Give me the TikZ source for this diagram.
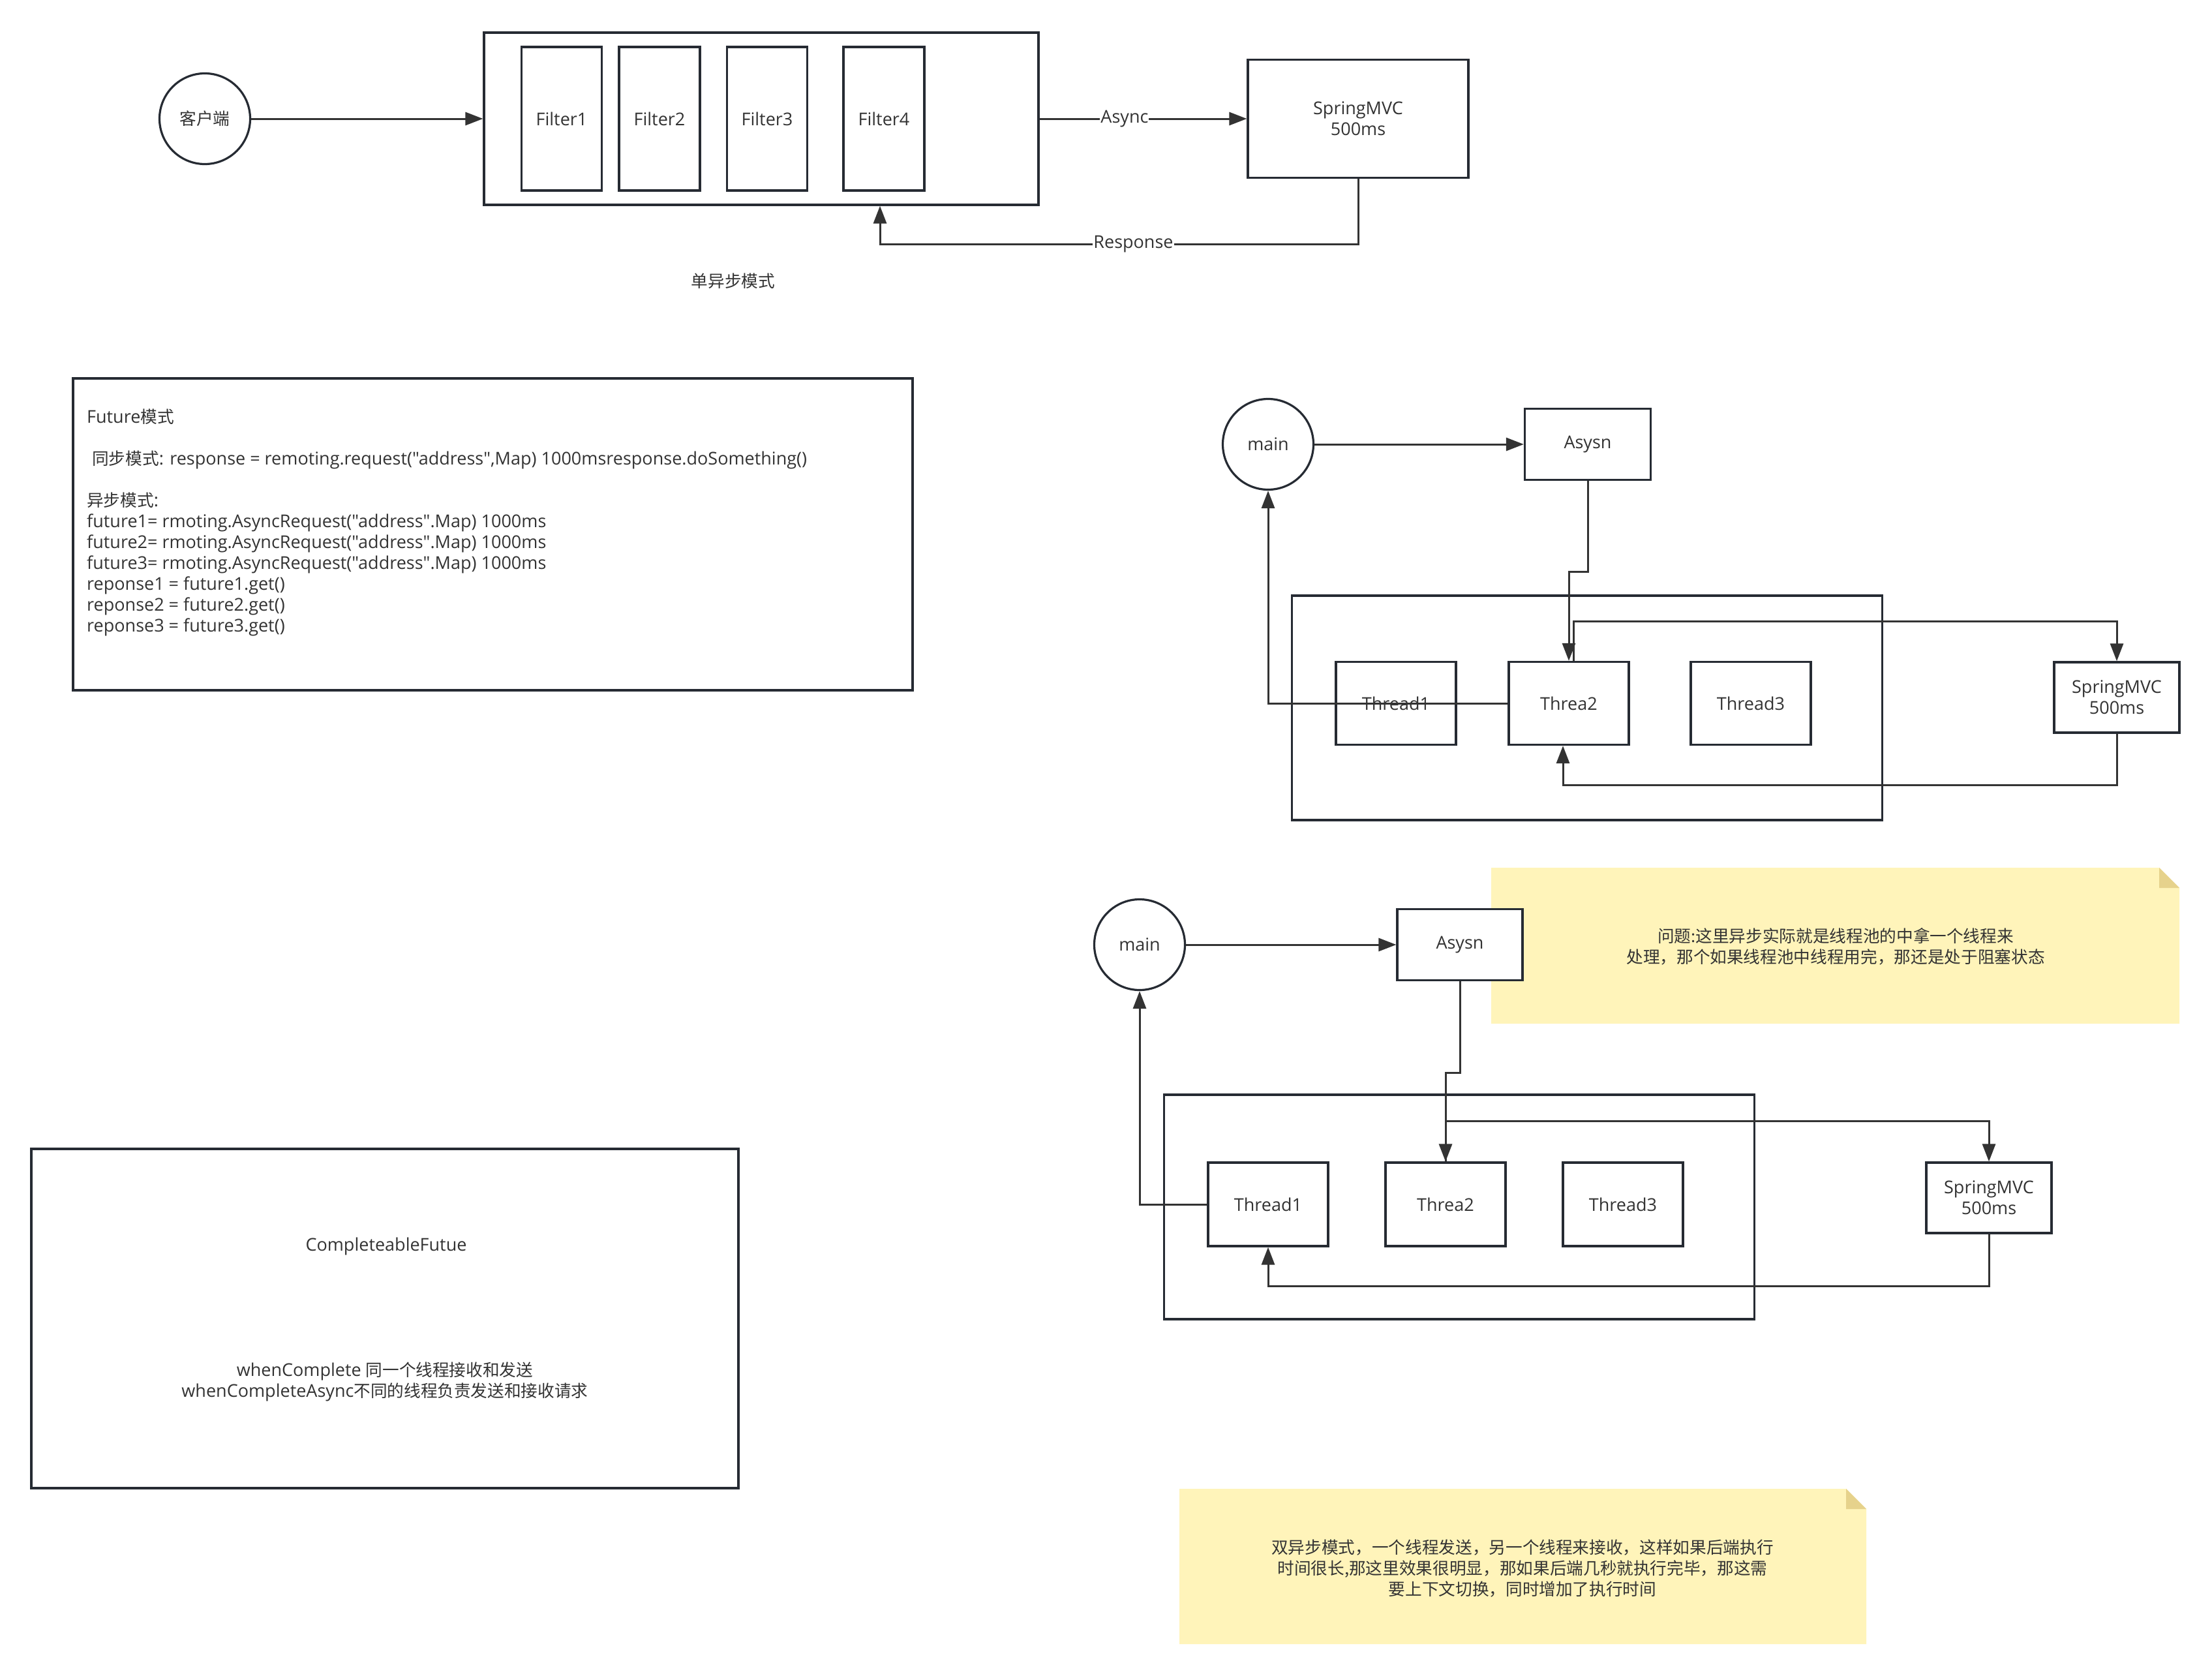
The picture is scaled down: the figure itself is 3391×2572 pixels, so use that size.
\documentclass[tikz,border=0pt]{standalone}
\usepackage{fontspec}
\setmainfont{Open Sans}[Ligatures=TeXOff]
\newfontfamily\cjk[Scale=0.95]{Noto Sans CJK SC}
\newcommand\zh[1]{{\cjk #1}}
\usetikzlibrary{arrows.meta,calc}
\definecolor{bd}{HTML}{262B33}
\definecolor{ln}{HTML}{333333}
\definecolor{tx}{HTML}{333333}
\definecolor{notefill}{HTML}{FFF4BA}
\definecolor{notefold}{HTML}{E6D28C}
\begin{document}
\begin{tikzpicture}[x=1pt,y=-1pt,
  every node/.style={font=\fontsize{27}{32}\selectfont, text=tx},
  box/.style={draw=bd, line width=3.2pt, fill=white, inner sep=0pt, align=center},
  circ/.style={draw=bd, line width=3.2pt, fill=white, circle, minimum size=139pt, inner sep=0pt},
  conn/.style={draw=ln, line width=3pt, -{Triangle[length=27pt,width=20pt]}},
  lbl/.style={fill=white, inner sep=1pt},
  thr/.style={box, minimum width=184pt, minimum height=127pt},
  mvc/.style={box, minimum width=192pt, minimum height=108pt},
  pool/.style={box, minimum width=905pt, minimum height=344pt},
]
\useasboundingbox[fill=white] (0,0) rectangle (3391,2572);

% ---------- top: single async ----------
\node[circ] (client) at (314,182) {\zh{客户端}};
\node[box, minimum width=850pt, minimum height=264pt] (filters) at (1167,182) {};
\node[box, minimum width=123pt, minimum height=220pt] (f1) at (861,182) {Filter1};
\node[box, minimum width=124pt, minimum height=220pt] (f2) at (1011,182) {Filter2};
\node[box, minimum width=123pt, minimum height=220pt] (f3) at (1176,182) {Filter3};
\node[box, minimum width=124pt, minimum height=220pt] (f4) at (1355,182) {Filter4};
\node[box, minimum width=338pt, minimum height=181pt] (mvc0) at (2082,182) {SpringMVC\\500ms};
\draw[conn] (client.east) -- (filters.west);
\draw[conn] (filters.east) -- node[lbl, pos=0.41] (asynclbl) {Async} (mvc0.west);
\draw[conn] (mvc0.south) -- ++(0,100) -- node[lbl, pos=0.47] (resplbl) {Response} ++(-733,0) -- ($(filters.south)+(182,0)$);
\node (title1) at (1124,431) {\zh{单异步模式}};

% ---------- Future box ----------
\node[box, minimum width=1287pt, minimum height=478pt] (futbox) at (755.5,819) {};
\node[anchor=north west, align=left, inner sep=0pt] (futtxt) at (133,627) {%
Future\zh{模式}\\[32pt]
\hspace*{8pt}\zh{同步模式}: response = remoting.request("address",Map) 1000msresponse.doSomething()\\[32pt]
\zh{异步模式}:\\
future1= rmoting.AsyncRequest("address".Map) 1000ms\\
future2= rmoting.AsyncRequest("address".Map) 1000ms\\
future3= rmoting.AsyncRequest("address".Map) 1000ms\\
reponse1 = future1.get()\\
reponse2 = future2.get()\\
reponse3 = future3.get()};

% ---------- CompletableFuture box ----------
\node[box, minimum width=1084pt, minimum height=520pt] (cfbox) at (590,2021) {};
\node (cftitle) at (592,1910) {CompleteableFutue};
\node[align=center] (cftxt) at (590,2118) {whenComplete \zh{同一个线程接收和发送}\\whenCompleteAsync\zh{不同的线程负责发送和接收请求}};

% ---------- notes ----------
\fill[notefill] (2286,1330) -- (3310,1330) -- (3341,1361) -- (3341,1569) -- (2286,1569) -- cycle;
\fill[notefold] (3310,1330) -- (3341,1361) -- (3310,1361) -- cycle;
\node[align=center] (note1) at (2814,1451) {\zh{问题:这里异步实际就是线程池的中拿一个线程来}\\\zh{处理，那个如果线程池中线程用完，那还是处于阻塞状态}};

\fill[notefill] (1808,2282) -- (2830,2282) -- (2861,2313) -- (2861,2520) -- (1808,2520) -- cycle;
\fill[notefold] (2830,2282) -- (2861,2313) -- (2830,2313) -- cycle;
\node[align=center] (note2) at (2334,2404) {\zh{双异步模式，一个线程发送，另一个线程来接收，这样如果后端执行}\\\zh{时间很长,那这里效果很明显，那如果后端几秒就执行完毕，那这需}\\\zh{要上下文切换，同时增加了执行时间}};

% ---------- middle diagram ----------
\node[circ] (main1) at (1944,681) {main};
\node[box, minimum width=193pt, minimum height=109pt] (as1) at (2434,681) {Asysn};
\node[pool] (pool1) at (2433,1085) {};
\node[thr] (t11) at (2140,1078) {Thread1};
\node[thr] (t12) at (2405,1078) {Threa2};
\node[thr] (t13) at (2684,1078) {Thread3};
\node[mvc] (mvc1) at (3245,1069) {SpringMVC\\500ms};
\draw[conn] (main1.east) -- (as1.west);
\draw[conn] (as1.south) -- ++(0,139) -| (t12.north);
\draw[conn] ($(t12.north)+(7,0)$) -- ++(0,-60) -| (mvc1.north);
\draw[conn] (t12.west) -| (main1.south);
\draw[conn] (mvc1.south) -- ++(0,79) -| ($(t12.south)+(-9,0)$);

% ---------- lower diagram ----------
\node[circ] (main2) at (1747,1448) {main};
\node[box, minimum width=192pt, minimum height=109pt] (as2) at (2238,1448) {Asysn};
\node[pool] (pool2) at (2237,1850) {};
\node[thr, minimum height=128pt] (t21) at (1944,1846) {Thread1};
\node[thr, minimum height=128pt] (t22) at (2216,1846) {Threa2};
\node[thr, minimum height=128pt] (t23) at (2488,1846) {Thread3};
\node[mvc] (mvc2) at (3049,1836) {SpringMVC\\500ms};
\draw[conn] (main2.east) -- (as2.west);
\draw[conn] (as2.south) -- ++(0,140) -| (t22.north);
\draw[conn] (t22.north) -- ++(0,-62) -| (mvc2.north);
\draw[conn] (t21.west) -| (main2.south);
\draw[conn] (mvc2.south) -- ++(0,80) -| (t21.south);
\end{tikzpicture}
\end{document}
